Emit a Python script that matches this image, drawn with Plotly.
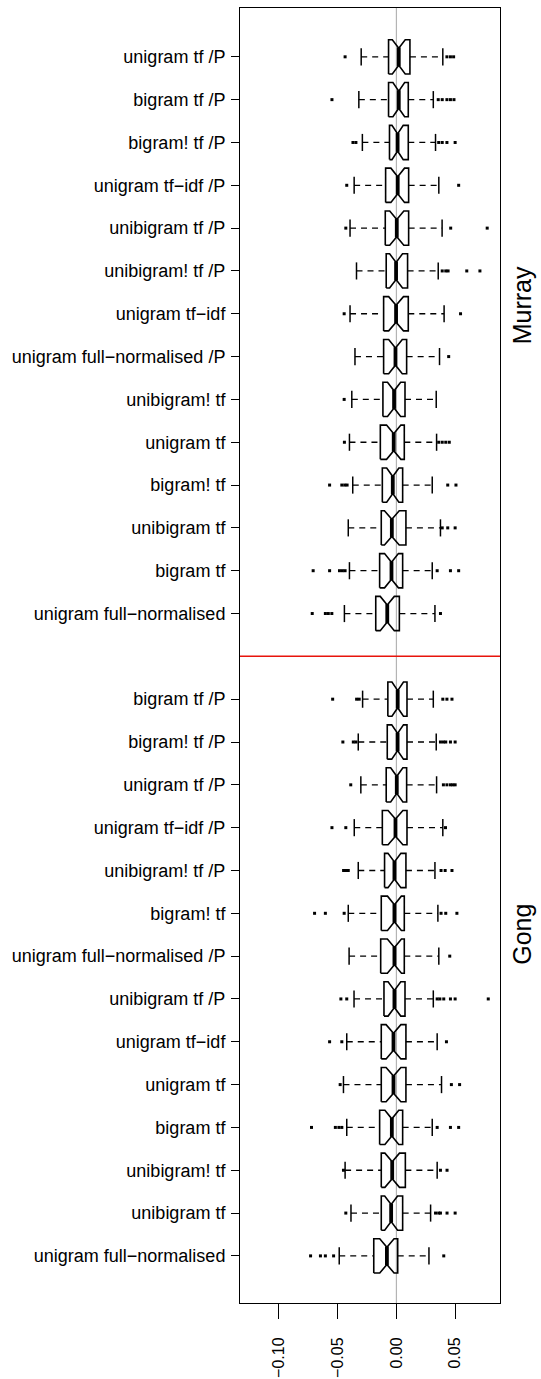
import plotly.graph_objects as go

# ---------------- data ----------------
murray_labels = ["unigram tf /P", "bigram tf /P", "bigram! tf /P", "unigram tf\u2212idf /P",
                 "unibigram tf /P", "unibigram! tf /P", "unigram tf\u2212idf",
                 "unigram full\u2212normalised /P", "unibigram! tf", "unigram tf",
                 "bigram! tf", "unibigram tf", "bigram tf", "unigram full\u2212normalised"]
murray_lo = [-0.0300, -0.0320, -0.0290, -0.0360, -0.0395, -0.0340, -0.0395,
             -0.0353, -0.0380, -0.0400, -0.0372, -0.0410, -0.0400, -0.0443]
murray_q1 = [-0.0067, -0.0067, -0.0059, -0.0092, -0.0095, -0.0087, -0.0109,
             -0.0109, -0.0115, -0.0137, -0.0120, -0.0129, -0.0143, -0.0176]
murray_med = [0.0020, 0.0020, 0.0010, 0.0011, 0.0003, -0.0003, -0.0003,
              -0.0008, -0.0020, -0.0023, -0.0031, -0.0039, -0.0042, -0.0078]
murray_q3 = [0.0115, 0.0101, 0.0101, 0.0104, 0.0104, 0.0095, 0.0101,
             0.0087, 0.0073, 0.0067, 0.0053, 0.0081, 0.0053, 0.0025]
murray_hi = [0.0395, 0.0314, 0.0333, 0.0361, 0.0389, 0.0356, 0.0406,
             0.0367, 0.0339, 0.0342, 0.0305, 0.0375, 0.0305, 0.0328]
murray_notch = [0.0055, 0.0050, 0.0048, 0.0058, 0.0060, 0.0055, 0.0063,
                0.0058, 0.0056, 0.0061, 0.0052, 0.0063, 0.0059, 0.0060]
murray_out = [
    [-0.0437, 0.0430, 0.0460, 0.0487],
    [-0.0549, 0.0356, 0.0390, 0.0430, 0.0460, 0.0490],
    [-0.0370, -0.0345, 0.0360, 0.0390, 0.0430, 0.0500],
    [-0.0423, 0.0530],
    [-0.0431, 0.0462, 0.0773],
    [0.0390, 0.0420, 0.0440, 0.0599, 0.0711],
    [-0.0445, 0.0546],
    [0.0445],
    [-0.0445],
    [-0.0443, 0.0360, 0.0390, 0.0420, 0.0450],
    [-0.0569, -0.0465, -0.0440, -0.0420, 0.0437, 0.0507],
    [0.0390, 0.0437, 0.0500],
    [-0.0709, -0.0569, -0.0485, -0.0460, -0.0437, 0.0347, 0.0460, 0.0530],
    [-0.0717, -0.0605, -0.0580, -0.0550, 0.0375],
]

gong_labels = ["bigram tf /P", "bigram! tf /P", "unigram tf /P", "unigram tf\u2212idf /P",
               "unibigram! tf /P", "bigram! tf", "unigram full\u2212normalised /P",
               "unibigram tf /P", "unigram tf\u2212idf", "unigram tf", "bigram tf",
               "unibigram! tf", "unibigram tf", "unigram full\u2212normalised"]
gong_lo = [-0.0288, -0.0325, -0.0303, -0.0359, -0.0325, -0.0410, -0.0403,
           -0.0361, -0.0423, -0.0451, -0.0423, -0.0437, -0.0387, -0.0487]
gong_q1 = [-0.0073, -0.0078, -0.0087, -0.0120, -0.0101, -0.0129, -0.0134,
           -0.0106, -0.0129, -0.0129, -0.0143, -0.0129, -0.0129, -0.0193]
gong_med = [0.0011, 0.0010, 0.0003, -0.0008, -0.0017, -0.0017, -0.0017,
            -0.0017, -0.0025, -0.0025, -0.0039, -0.0036, -0.0045, -0.0081]
gong_q3 = [0.0090, 0.0090, 0.0087, 0.0090, 0.0081, 0.0067, 0.0067,
           0.0073, 0.0081, 0.0081, 0.0053, 0.0076, 0.0053, 0.0011]
gong_hi = [0.0314, 0.0339, 0.0342, 0.0395, 0.0328, 0.0353, 0.0361,
           0.0314, 0.0347, 0.0384, 0.0305, 0.0347, 0.0291, 0.0277]
gong_notch = [0.0049, 0.0050, 0.0052, 0.0063, 0.0055, 0.0059, 0.0060,
              0.0054, 0.0063, 0.0063, 0.0059, 0.0062, 0.0055, 0.0061]
gong_out = [
    [-0.0543, -0.0339, -0.0317, 0.0395, 0.0430, 0.0473],
    [-0.0456, -0.0367, -0.0345, 0.0375, 0.0400, 0.0420, 0.0460, 0.0500],
    [-0.0389, 0.0400, 0.0430, 0.0460, 0.0480, 0.0500],
    [-0.0549, -0.0431, 0.0418],
    [-0.0450, -0.0430, -0.0410, 0.0380, 0.0415, 0.0473],
    [-0.0697, -0.0605, -0.0445, 0.0380, 0.0420, 0.0515],
    [0.0454],
    [-0.0473, -0.0423, 0.0347, 0.0370, 0.0403, 0.0460, 0.0500, 0.0782],
    [-0.0569, -0.0465, 0.0426],
    [-0.0479, 0.0468, 0.0538],
    [-0.0723, -0.0520, -0.0490, -0.0465, 0.0347, 0.0460, 0.0530],
    [-0.0451, 0.0375, 0.0431],
    [-0.0431, 0.0333, 0.0360, 0.0375, 0.0431, 0.0500],
    [-0.0731, -0.0647, -0.0605, -0.0535, 0.0403],
]

x_tickvals = [-0.10, -0.05, 0.00, 0.05]
x_ticktext = ["\u22120.10", "\u22120.05", "0.00", "0.05"]
group_names = ["Murray", "Gong"]

# ---------------- geometry helpers ----------------
labels = murray_labels + gong_labels
lo = murray_lo + gong_lo
q1 = murray_q1 + gong_q1
med = murray_med + gong_med
q3 = murray_q3 + gong_q3
hi = murray_hi + gong_hi
notch = murray_notch + gong_notch
outs = murray_out + gong_out

n_m = len(murray_labels)
n_g = len(gong_labels)
total = n_m + n_g + 1          # one empty slot for the separator
pos = [total - i for i in range(n_m)] + [n_g - j for j in range(n_g)]
sep_pos = n_g + 1

W = 0.4     # half box height
NW = 0.2    # half height at notch
CAP = 0.2   # half staple

bx, by = [], []
mx, my = [], []
wx, wy = [], []
cx, cy = [], []
ox, oy = [], []
for k in range(len(labels)):
    y = pos[k]
    a, b, m, n = q1[k], q3[k], med[k], notch[k]
    bx += [a, m - n, m, m + n, b, b, m + n, m, m - n, a, a, None]
    by += [y - W, y - W, y - NW, y - W, y - W, y + W, y + W, y + NW, y + W, y + W, y - W, None]
    mx += [m, m, None]
    my += [y - NW - 0.02, y + NW + 0.02, None]
    wx += [lo[k], a, None, b, hi[k], None]
    wy += [y, y, None, y, y, None]
    cx += [lo[k], lo[k], None, hi[k], hi[k], None]
    cy += [y - CAP, y + CAP, None, y - CAP, y + CAP, None]
    for v in outs[k]:
        ox.append(v)
        oy.append(y)

fig = go.Figure()
fig.add_trace(go.Scatter(x=wx, y=wy, mode="lines", line=dict(color="black", width=1.3, dash="6px,5px"),
                         hoverinfo="skip", showlegend=False))
fig.add_trace(go.Scatter(x=cx, y=cy, mode="lines", line=dict(color="black", width=1.5),
                         hoverinfo="skip", showlegend=False))
fig.add_trace(go.Scatter(x=bx, y=by, mode="lines", line=dict(color="black", width=1.6),
                         hoverinfo="skip", showlegend=False))
fig.add_trace(go.Scatter(x=mx, y=my, mode="lines", line=dict(color="black", width=3.8),
                         hoverinfo="skip", showlegend=False))
fig.add_trace(go.Scatter(x=ox, y=oy, mode="markers",
                         marker=dict(color="black", size=3, symbol="square", line=dict(width=0)),
                         hoverinfo="skip", showlegend=False))

# zero reference line (grey) and separator (red)
fig.add_shape(type="line", x0=0, x1=0, y0=0, y1=1, xref="x", yref="paper",
              line=dict(color="#b4b4b4", width=1.2), layer="below")
fig.add_shape(type="line", x0=0, x1=1, y0=sep_pos, y1=sep_pos, xref="paper", yref="y",
              line=dict(color="#e8140c", width=1.5))

# group labels on the right
fig.add_annotation(text=group_names[0], x=1.085, xref="paper", y=23.2, yref="y",
                   xanchor="center", yanchor="middle",
                   textangle=-90, showarrow=False, font=dict(size=25, color="black"))
fig.add_annotation(text=group_names[1], x=1.085, xref="paper", y=8.5, yref="y",
                   xanchor="center", yanchor="middle",
                   textangle=-90, showarrow=False, font=dict(size=25, color="black"))

fig.update_layout(
    width=541, height=1379,
    margin=dict(l=240, r=41, t=8, b=76),
    paper_bgcolor="white", plot_bgcolor="white",
    font=dict(family="Liberation Sans, Arial, sans-serif", size=18, color="black"),
    xaxis=dict(range=[-0.1332, 0.0882], tickvals=x_tickvals, ticktext=x_ticktext,
               tickangle=-90, ticks="outside", ticklen=15, tickwidth=1, tickcolor="black",
               ticklabelstandoff=12, showgrid=False, zeroline=False, automargin=False,
               showline=True, mirror=True, linecolor="black", linewidth=1,
               tickfont=dict(size=16)),
    yaxis=dict(range=[-0.1, 30.14], tickvals=pos, ticktext=labels,
               ticks="outside", ticklen=8, tickwidth=1, tickcolor="black",
               ticklabelstandoff=2, showgrid=False, zeroline=False, automargin=False,
               showline=True, mirror=True, linecolor="black", linewidth=1,
               tickfont=dict(size=18)),
)

fig.write_html("out.html")
